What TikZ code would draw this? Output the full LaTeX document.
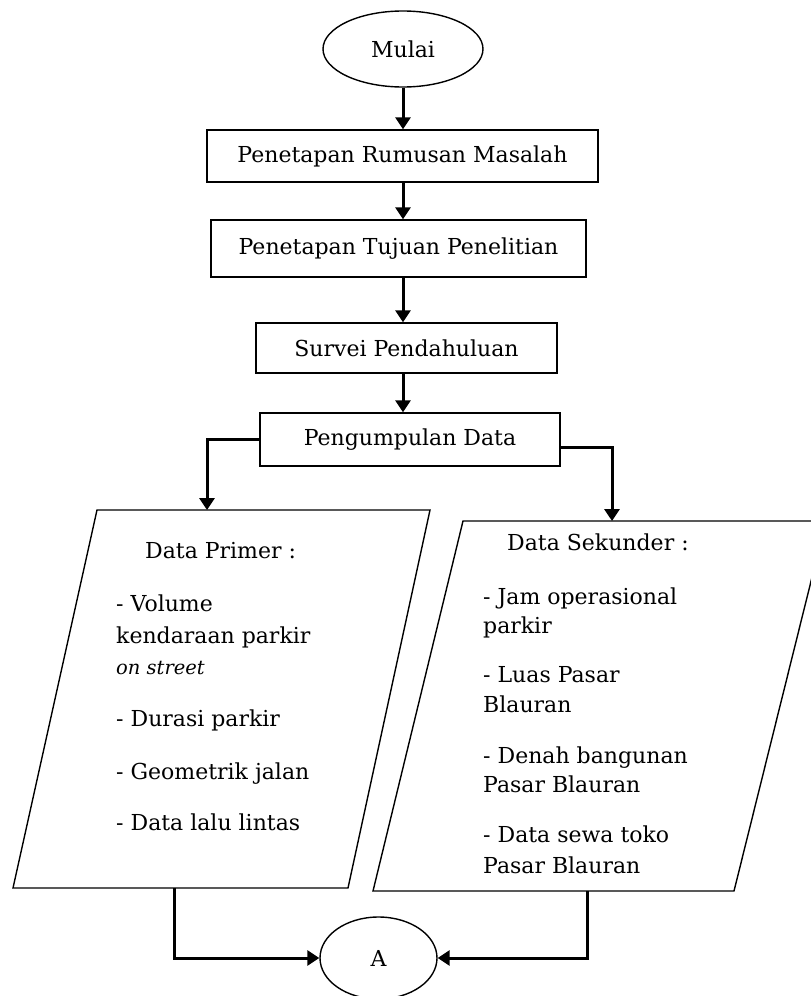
\documentclass[tikz,border=0pt]{standalone}
\usepackage{fontspec}
\setmainfont{DejaVu Serif}
\usetikzlibrary{arrows.meta,shapes.geometric}

\begin{document}
\begin{tikzpicture}[x=1pt, y=-1pt, line join=miter,
  teks/.style={font=\fontsize{22}{26}\selectfont},
  proses/.style={draw, line width=1.4pt, inner sep=0pt, teks},
  terminal/.style={draw, ellipse, line width=1.4pt, inner sep=0pt, teks},
  garis/.style={line width=1.4pt},
  panah/.style={line width=3pt, -{Triangle[length=12pt, width=15pt]}},
  isi/.style={anchor=base west, inner sep=0pt, teks}]

% -----------------------
% Batas gambar
% -----------------------
\useasboundingbox (0,0) rectangle (811,996);
\clip (0,0) rectangle (811,996);

% -----------------------
% Terminal dan proses
% -----------------------
\node[terminal, minimum width=160pt, minimum height=76pt] (mulai) at (403,49) {Mulai};
\node[proses, minimum width=391pt, minimum height=52pt] (rumusan) at (402.5,156) {Penetapan Rumusan Masalah};
\node[proses, minimum width=375pt, minimum height=57pt] (tujuan) at (398.5,248.5) {Penetapan Tujuan Penelitian};
\node[proses, minimum width=301pt, minimum height=50pt] (survei) at (406.5,348) {Survei Pendahuluan};
\node[proses, minimum width=300pt, minimum height=53pt] (kumpul) at (410,439.5) {Pengumpulan Data};

% -----------------------
% Data primer (jajar genjang kiri)
% -----------------------
\coordinate (pA1) at (97,510);
\coordinate (pA2) at (430,510);
\coordinate (pA3) at (348,888);
\coordinate (pA4) at (13,888);
\draw[garis] (pA1) -- (pA2) -- (pA3) -- (pA4) -- cycle;
\coordinate (masukA) at (207,510);
\coordinate (keluarA) at (174,888);

\node[isi] (primer) at (145,558) {Data Primer :};
\foreach \n/\y/\t in {1/611/- Volume, 2/643/kendaraan parkir, 4/726/- Durasi parkir,
                      5/779/- Geometrik jalan, 6/830/- Data lalu lintas}{
  \node[isi] (prim\n) at (116,\y) {\t};
}
\node[isi, font=\fontsize{19.5}{23}\selectfont\itshape] (prim3) at (116,674) {on street};

% -----------------------
% Data sekunder (jajar genjang kanan)
% -----------------------
\coordinate (pB1) at (463,521);
\coordinate (pB2) at (826,521);
\coordinate (pB3) at (734,891);
\coordinate (pB4) at (373,891);
\draw[garis] (pB1) -- (pB2) -- (pB3) -- (pB4) -- cycle;
\coordinate (masukB) at (612,521);
\coordinate (keluarB) at (587,891);

\node[isi] (sekunder) at (507,550) {Data Sekunder :};
\foreach \n/\y/\t in {1/604/- Jam operasional, 2/633/parkir, 3/682/- Luas Pasar, 4/712/Blauran,
                      5/763/- Denah bangunan, 6/792/Pasar Blauran, 7/842/- Data sewa toko, 8/873/Pasar Blauran}{
  \node[isi] (sek\n) at (483,\y) {\t};
}

% -----------------------
% Konektor A
% -----------------------
\node[terminal, minimum width=117pt, minimum height=82pt] (konektor) at (378.5,958) {A};

% -----------------------
% Alur
% -----------------------
\draw[panah] (mulai.south) -- (rumusan.north -| mulai);
\draw[panah] (rumusan.south -| mulai) -- (tujuan.north -| mulai);
\draw[panah] (tujuan.south -| mulai) -- (survei.north -| mulai);
\draw[panah] (survei.south -| mulai) -- (kumpul.north -| mulai);
\draw[panah] (kumpul.west) -| (masukA);
\draw[panah] ([yshift=-8pt]kumpul.east) -| (masukB);
\draw[panah] (keluarA) |- (konektor.west);
\draw[panah] (keluarB) |- (konektor.east);

\end{tikzpicture}
\end{document}
